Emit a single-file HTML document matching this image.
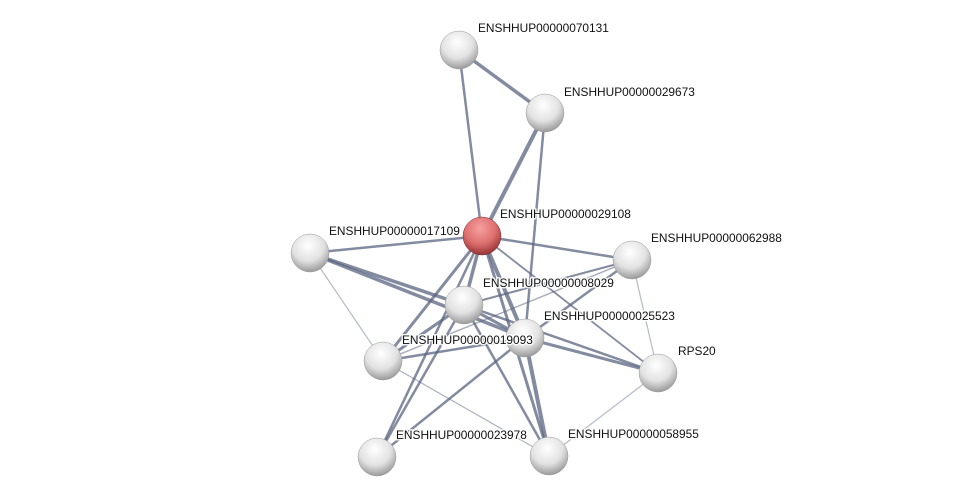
<!DOCTYPE html>
<html><head><style>body{margin:0;background:#fff}svg{display:block}text{font-family:"Liberation Sans",sans-serif;font-size:11.9px;fill:#111;stroke:#fff;stroke-width:3;stroke-opacity:0.85;paint-order:stroke;stroke-linejoin:round}</style></head><body>
<svg width="975" height="502" viewBox="0 0 975 502">
<defs>
<radialGradient id="g" cx="0.45" cy="0.3" r="0.75"><stop offset="0" stop-color="#fff"/><stop offset="0.55" stop-color="#e2e2e2"/><stop offset="1" stop-color="#8e8e8e"/></radialGradient>
<radialGradient id="r" cx="0.45" cy="0.3" r="0.75"><stop offset="0" stop-color="#f6a0a0"/><stop offset="0.55" stop-color="#dd6e6e"/><stop offset="1" stop-color="#8a2a2a"/></radialGradient>
</defs>
<g stroke="#5a6480" stroke-opacity="0.75" stroke-width="2.5" fill="none">
<line x1="459" y1="50" x2="545" y2="113" stroke-width="3.5"/>
<line x1="459" y1="50" x2="482" y2="236"/>
<line x1="545" y1="113" x2="482" y2="236" stroke-width="4"/>
<line x1="545" y1="113" x2="525" y2="338"/>
<line x1="482" y1="236" x2="310" y2="253"/>
<line x1="482" y1="236" x2="632" y2="260"/>
<line x1="482" y1="236" x2="464" y2="305" stroke-width="3.5"/>
<line x1="482" y1="236" x2="525" y2="338" stroke-width="4"/>
<line x1="482" y1="236" x2="383" y2="361" stroke-width="3"/>
<line x1="482" y1="236" x2="377" y2="457"/>
<line x1="482" y1="236" x2="549" y2="456" stroke-width="3"/>
<line x1="482" y1="236" x2="658" y2="373" stroke-width="1.8"/>
<line x1="310" y1="253" x2="464" y2="305" stroke-width="3.5"/>
<line x1="310" y1="253" x2="525" y2="338" stroke-width="3.5"/>
<line x1="310" y1="253" x2="383" y2="361" stroke-width="1.2" stroke-opacity="0.45"/>
<line x1="632" y1="260" x2="464" y2="305" stroke-width="2"/>
<line x1="632" y1="260" x2="525" y2="338" stroke-width="2.5"/>
<line x1="632" y1="260" x2="383" y2="361" stroke-width="1.5" stroke-opacity="0.5"/>
<line x1="632" y1="260" x2="658" y2="373" stroke-width="1.2" stroke-opacity="0.45"/>
<line x1="464" y1="305" x2="525" y2="338" stroke-width="3"/>
<line x1="464" y1="305" x2="383" y2="361" stroke-width="3"/>
<line x1="464" y1="305" x2="377" y2="457"/>
<line x1="464" y1="305" x2="549" y2="456"/>
<line x1="464" y1="305" x2="658" y2="373"/>
<line x1="525" y1="338" x2="383" y2="361"/>
<line x1="525" y1="338" x2="658" y2="373" stroke-width="3"/>
<line x1="525" y1="338" x2="377" y2="457"/>
<line x1="525" y1="338" x2="549" y2="456" stroke-width="4"/>
<line x1="383" y1="361" x2="549" y2="456" stroke-width="1.2" stroke-opacity="0.5"/>
<line x1="658" y1="373" x2="549" y2="456" stroke-width="1.2" stroke-opacity="0.45"/>
</g>
<g stroke="#999" stroke-width="0.5">
<circle cx="459" cy="50" r="19" fill="url(#g)"/>
<circle cx="545" cy="113" r="19" fill="url(#g)"/>
<circle cx="310" cy="253" r="19" fill="url(#g)"/>
<circle cx="632" cy="260" r="19" fill="url(#g)"/>
<circle cx="464" cy="305" r="19" fill="url(#g)"/>
<circle cx="525" cy="338" r="19" fill="url(#g)"/>
<circle cx="383" cy="361" r="19" fill="url(#g)"/>
<circle cx="658" cy="373" r="19" fill="url(#g)"/>
<circle cx="377" cy="457" r="19" fill="url(#g)"/>
<circle cx="549" cy="456" r="19" fill="url(#g)"/>
<circle cx="482" cy="236" r="19" fill="url(#r)" stroke="#7a2a2a"/>
</g>
<text x="478" y="32">ENSHHUP00000070131</text>
<text x="564" y="96">ENSHHUP00000029673</text>
<text x="500" y="218">ENSHHUP00000029108</text>
<text x="329" y="235">ENSHHUP00000017109</text>
<text x="651" y="242">ENSHHUP00000062988</text>
<text x="483" y="287">ENSHHUP00000008029</text>
<text x="544" y="320">ENSHHUP00000025523</text>
<text x="402" y="344">ENSHHUP00000019093</text>
<text x="678" y="355">RPS20</text>
<text x="396" y="439">ENSHHUP00000023978</text>
<text x="568" y="438">ENSHHUP00000058955</text>
</svg>
</body></html>
